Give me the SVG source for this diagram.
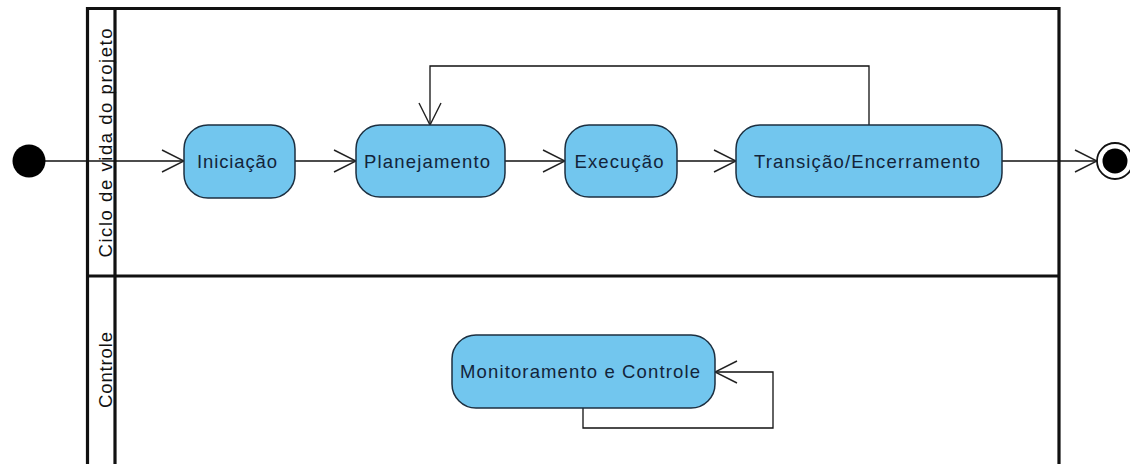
<svg xmlns="http://www.w3.org/2000/svg" width="1130" height="464" viewBox="0 0 1130 464">
<style>
.frame{fill:none;stroke:#111;stroke-width:3.2}
.node rect{fill:#72C6EE;stroke:#1c2f40;stroke-width:1.5}
.lbl{font-family:"Liberation Sans",Arial,sans-serif;font-size:18.5px;fill:#13243a;text-anchor:middle}
.lane{font-family:"Liberation Sans",Arial,sans-serif;font-size:18.5px;fill:#111;text-anchor:middle}
.edge{fill:none;stroke:#111;stroke-width:1.3}
</style>
<defs>
<marker id="open" viewBox="0 0 24 24" refX="23" refY="12" markerWidth="24" markerHeight="24" markerUnits="userSpaceOnUse" orient="auto">
<path d="M1,1 L23,12 L1,23" fill="none" stroke="#222" stroke-width="1.4"/>
</marker>
</defs>
<rect width="1130" height="464" fill="#fff"/>
<g id="lanes">
<path class="frame" d="M87.5,470 V8.5 H1059 V470"/>
<path class="frame" d="M115,8.5 V470"/>
<path class="frame" d="M87.5,276 H1059"/>
<text class="lane" transform="translate(111.5,143) rotate(-90)" textLength="229" lengthAdjust="spacing">Ciclo de vida do projeto</text>
<text class="lane" transform="translate(111.5,370) rotate(-90)" textLength="76" lengthAdjust="spacing">Controle</text>
</g>
<g id="connectors">
<line class="edge" x1="45" y1="161" x2="184" y2="161" marker-end="url(#open)"/>
<line class="edge" x1="295" y1="161" x2="356" y2="161" marker-end="url(#open)"/>
<line class="edge" x1="505" y1="161" x2="565" y2="161" marker-end="url(#open)"/>
<line class="edge" x1="677" y1="161" x2="736" y2="161" marker-end="url(#open)"/>
<line class="edge" x1="1002" y1="161" x2="1097" y2="161" marker-end="url(#open)"/>
<polyline class="edge" points="869,125 869,66 430,66 430,125" marker-end="url(#open)"/>
<polyline class="edge" points="583,408 583,428 773,428 773,372 715,372" marker-end="url(#open)"/>
</g>
<g id="start"><circle cx="29" cy="161" r="16.5" fill="#000"/></g>
<g id="end"><circle cx="1115" cy="161" r="18" fill="#fff" stroke="#111" stroke-width="1.8"/><circle cx="1115" cy="161" r="12.5" fill="#000"/></g>
<g id="iniciacao" class="node"><rect x="184" y="125" width="111" height="73" rx="24"/><text class="lbl" x="237" y="168" textLength="80" lengthAdjust="spacing">Iniciação</text></g>
<g id="planejamento" class="node"><rect x="356" y="125" width="149" height="72" rx="24"/><text class="lbl" x="427" y="168" textLength="126" lengthAdjust="spacing">Planejamento</text></g>
<g id="execucao" class="node"><rect x="565" y="125" width="112" height="72" rx="24"/><text class="lbl" x="619" y="168" textLength="89" lengthAdjust="spacing">Execução</text></g>
<g id="transicao" class="node"><rect x="736" y="125" width="266" height="72" rx="24"/><text class="lbl" x="867" y="168" textLength="226" lengthAdjust="spacing">Transição/Encerramento</text></g>
<g id="monitoramento" class="node"><rect x="452" y="335" width="263" height="73" rx="24"/><text class="lbl" x="580" y="378" textLength="240" lengthAdjust="spacing">Monitoramento e Controle</text></g>
</svg>
